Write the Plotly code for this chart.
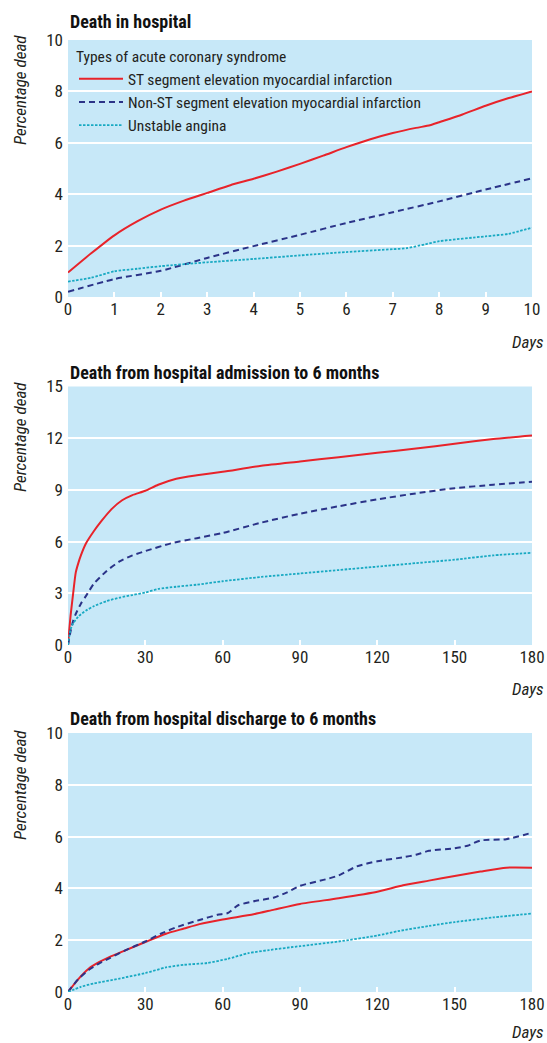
import plotly.graph_objects as go

# ---------------- data ----------------
SERIES_NAMES = ["ST segment elevation myocardial infarction",
                "Non-ST segment elevation myocardial infarction",
                "Unstable angina"]

# Panel 1: death in hospital (days 0-10)
p1_red_x = [0, 0.5, 1, 1.5, 2, 2.5, 3, 3.5, 4, 4.5, 5, 5.5, 6, 6.5, 7, 7.5, 7.8, 8, 8.5, 9, 9.5, 10]
p1_red_y = [0.95, 1.7, 2.4, 2.95, 3.4, 3.75, 4.05, 4.35, 4.6, 4.88, 5.18, 5.5, 5.83, 6.13, 6.38, 6.58, 6.68, 6.8, 7.1, 7.44, 7.74, 8.0]
p1_navy_x = [0, 1, 2, 3, 4, 5, 6, 7, 8, 9, 10]
p1_navy_y = [0.2, 0.7, 1.02, 1.52, 1.98, 2.42, 2.88, 3.3, 3.72, 4.18, 4.62]
p1_cyan_x = [0, 0.5, 1, 1.5, 2, 3, 4, 5, 6, 7, 7.3, 7.7, 8, 9, 9.5, 10]
p1_cyan_y = [0.6, 0.75, 1.0, 1.1, 1.2, 1.35, 1.48, 1.62, 1.75, 1.86, 1.9, 2.05, 2.17, 2.36, 2.46, 2.7]

# Panel 2: admission to 6 months (days 0-180)
p2_red_x = [0, 0.5, 1, 2, 3, 4, 5, 7, 10, 13, 17, 21, 25, 30, 35, 42, 50, 60, 75, 90, 105, 120, 135, 150, 165, 180]
p2_red_y = [0, 0.9, 1.7, 3.0, 4.2, 4.75, 5.2, 5.9, 6.6, 7.2, 7.9, 8.4, 8.7, 8.95, 9.3, 9.65, 9.85, 10.05, 10.4, 10.65, 10.9, 11.15, 11.4, 11.68, 11.95, 12.15]
p2_navy_x = [0, 1, 2, 3, 5, 7, 10, 15, 20, 25, 30, 40, 50, 60, 75, 90, 105, 120, 135, 150, 165, 180]
p2_navy_y = [0, 0.8, 1.4, 1.8, 2.4, 2.85, 3.55, 4.3, 4.85, 5.2, 5.45, 5.9, 6.2, 6.5, 7.1, 7.62, 8.05, 8.45, 8.8, 9.1, 9.3, 9.47]
p2_cyan_x = [0, 1, 2, 4, 7, 10, 15, 20, 25, 30, 35, 42, 50, 60, 75, 90, 105, 120, 135, 150, 165, 180]
p2_cyan_y = [0, 0.9, 1.25, 1.65, 2.0, 2.25, 2.55, 2.75, 2.9, 3.05, 3.25, 3.38, 3.5, 3.7, 3.95, 4.15, 4.35, 4.55, 4.75, 4.95, 5.2, 5.35]

# Panel 3: discharge to 6 months (days 0-180)
p3_red_x = [0, 4, 8, 12, 16, 22, 30, 38, 45, 51, 60, 72, 80, 90, 105, 120, 130, 140, 150, 160, 170, 180]
p3_red_y = [0, 0.5, 0.9, 1.15, 1.35, 1.6, 1.93, 2.25, 2.45, 2.62, 2.8, 3.0, 3.18, 3.4, 3.62, 3.87, 4.12, 4.3, 4.48, 4.65, 4.8, 4.8]
p3_navy_x = [0, 4, 8, 12, 16, 22, 30, 36, 42, 51, 58, 62, 66, 72, 80, 85, 90, 100, 105, 112, 120, 130, 135, 140, 150, 155, 160, 170, 180]
p3_navy_y = [0, 0.5, 0.85, 1.1, 1.3, 1.6, 1.95, 2.25, 2.5, 2.78, 2.98, 3.05, 3.35, 3.5, 3.65, 3.85, 4.1, 4.35, 4.5, 4.85, 5.05, 5.2, 5.3, 5.45, 5.55, 5.65, 5.85, 5.9, 6.15]
p3_cyan_x = [0, 5, 10, 20, 30, 38, 45, 54, 62, 70, 78, 90, 105, 120, 128, 140, 150, 165, 180]
p3_cyan_y = [0, 0.2, 0.33, 0.52, 0.73, 0.95, 1.05, 1.12, 1.28, 1.5, 1.62, 1.77, 1.95, 2.18, 2.35, 2.55, 2.7, 2.88, 3.03]

PANEL_TITLES = ["Death in hospital",
                "Death from hospital admission to 6 months",
                "Death from hospital discharge to 6 months"]
X_TICKS = [list(range(0, 11)), list(range(0, 181, 30)), list(range(0, 181, 30))]
Y_TICKS = [list(range(0, 11, 2)), list(range(0, 16, 3)), list(range(0, 11, 2))]
X_RANGES = [[0, 10], [0, 180], [0, 180]]
Y_RANGES = [[0, 10], [0, 15], [0, 10]]

# ---------------- styling ----------------
W, H = 547, 1043
FONT = "Liberation Sans Narrow, Roboto Condensed, Arial Narrow, Liberation Sans, sans-serif"
BG = "#c7e8f8"
RED = "#e8232a"
NAVY = "#2b3388"
CYAN = "#18a9c2"
styles = [dict(color=RED, width=2, dash="solid"),
          dict(color=NAVY, width=2, dash="6px,4px"),
          dict(color=CYAN, width=1.8, dash="2.5px,1.5px")]

panels = [
    [(p1_red_x, p1_red_y), (p1_navy_x, p1_navy_y), (p1_cyan_x, p1_cyan_y)],
    [(p2_red_x, p2_red_y), (p2_navy_x, p2_navy_y), (p2_cyan_x, p2_cyan_y)],
    [(p3_red_x, p3_red_y), (p3_navy_x, p3_navy_y), (p3_cyan_x, p3_cyan_y)],
]

# pixel boxes of the plot areas (top, bottom)
boxes = [(40, 297), (386.5, 645), (733, 992)]
x_left, x_right = 68, 532
title_y = [22, 372, 718]
days_y = [342, 689, 1032]
ylab_center = [90, 437, 785]

fig = go.Figure()
for i, series in enumerate(panels):
    suffix = "" if i == 0 else str(i + 1)
    for j, (xs, ys) in enumerate(series):
        fig.add_trace(go.Scatter(
            x=xs, y=ys, mode="lines", name=SERIES_NAMES[j],
            line=dict(shape="spline", smoothing=0.6, **styles[j]),
            showlegend=(i == 0),
            xaxis="x" + suffix, yaxis="y" + suffix,
            hoverinfo="skip"))

layout = dict(
    template="none",
    width=W, height=H,
    margin=dict(l=0, r=0, t=0, b=0, autoexpand=False),
    paper_bgcolor="white",
    plot_bgcolor=BG,
    font=dict(family=FONT, color="#231f20", size=17),
    showlegend=True,
    legend=dict(
        x=(x_left + 6) / W, y=1 - 42 / H, xanchor="left", yanchor="top",
        bgcolor="rgba(0,0,0,0)",
        font=dict(family=FONT, size=15.5, color="#231f20"),
        title=dict(text="Types of acute coronary syndrome", side="top",
                   font=dict(family=FONT, size=15.5, color="#231f20")),
        tracegroupgap=0, itemwidth=44,
    ),
)

annotations = []
for i in range(3):
    suffix = "" if i == 0 else str(i + 1)
    top, bot = boxes[i]
    layout["xaxis" + suffix] = dict(
        domain=[x_left / W, x_right / W], range=X_RANGES[i],
        anchor="y" + suffix, tickvals=X_TICKS[i], automargin=False,
        ticks="inside", ticklen=5, tickwidth=1.5, tickcolor="white",
        showgrid=False, zeroline=False, showline=False,
        tickfont=dict(size=17), fixedrange=True)
    layout["yaxis" + suffix] = dict(
        domain=[1 - bot / H, 1 - top / H], range=Y_RANGES[i],
        anchor="x" + suffix, tickvals=Y_TICKS[i], automargin=False,
        showgrid=True, gridcolor="white", gridwidth=2,
        zeroline=False, showline=False, ticks="",
        tickfont=dict(size=17), ticklabelstandoff=4, fixedrange=True)
    annotations.append(dict(
        text="<b>" + PANEL_TITLES[i] + "</b>", xref="paper", yref="paper",
        x=x_left / W, y=1 - title_y[i] / H, xanchor="left", yanchor="middle",
        showarrow=False, font=dict(size=18, color="#111111")))
    annotations.append(dict(
        text="<i>Days</i>", xref="paper", yref="paper",
        x=(x_right + 14) / W, y=1 - days_y[i] / H, xanchor="right", yanchor="middle",
        showarrow=False, font=dict(size=17)))
    annotations.append(dict(
        text="<i>Percentage dead</i>", xref="paper", yref="paper",
        x=20 / W, y=1 - ylab_center[i] / H, xanchor="center", yanchor="middle",
        textangle=-90, showarrow=False, font=dict(size=17)))
layout["annotations"] = annotations

fig.update_layout(**layout)
fig.write_html(
    "out.html",
    config={"displayModeBar": False},
    post_script="document.body.style.margin='0px';document.body.style.overflow='hidden';",
)
